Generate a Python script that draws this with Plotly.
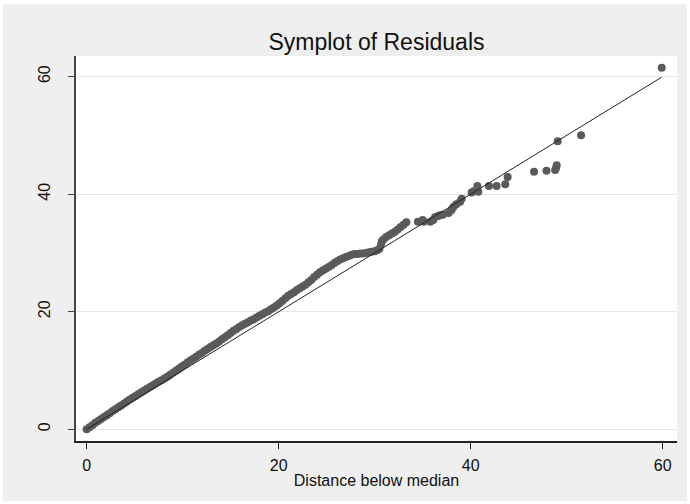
import plotly.graph_objects as go

# Distance below median (x) and distance above median (y) for each symmetric pair
below = [0.0, 0.3, 0.6, 0.9, 1.2, 1.5, 1.8, 2.1, 2.4, 2.7,
         3.0, 3.3, 3.6, 3.9, 4.2, 4.5, 4.8, 5.1, 5.4, 5.7,
         6.0, 6.3, 6.6, 6.9, 7.2, 7.5, 7.8, 8.1, 8.4, 8.7,
         9.0, 9.3, 9.6, 9.9, 10.2, 10.5, 10.8, 11.1, 11.4, 11.7,
         12.0, 12.3, 12.6, 12.9, 13.2, 13.5, 13.8, 14.1, 14.4, 14.7,
         15.0, 15.3, 15.6, 15.9, 16.2, 16.5, 16.8, 17.1, 17.4, 17.7,
         18.0, 18.3, 18.6, 18.9, 19.2, 19.5, 19.8, 20.1, 20.4, 20.7,
         21.0, 21.3, 21.6, 21.9, 22.2, 22.5, 22.8, 23.1, 23.4, 23.7,
         24.0, 24.3, 24.6, 24.9, 25.2, 25.5, 25.8, 26.1, 26.4, 26.7,
         27.0, 27.3, 27.6, 27.9, 28.2, 28.5, 28.8, 29.1, 29.4, 29.7,
         30.0, 30.3, 30.5, 30.65, 30.75, 30.9, 31.2, 31.5, 31.8, 32.1,
         32.4, 32.7, 33.0, 33.3,
         34.5, 35.0, 35.1, 35.8, 36.1, 36.3, 36.6, 36.8, 37.1, 37.7,
         38.0, 38.2, 38.5, 38.9, 39.06, 40.1, 40.3, 40.7, 40.8, 41.9,
         42.7, 43.6, 43.85, 46.6, 47.9, 48.8, 48.9, 48.96, 49.06, 51.5,
         59.9]
above = [0.0, 0.35, 0.7, 1.1, 1.4, 1.75, 2.1, 2.4, 2.75, 3.1,
         3.4, 3.75, 4.05, 4.4, 4.75, 5.05, 5.35, 5.65, 6.0, 6.3,
         6.6, 6.9, 7.2, 7.5, 7.8, 8.1, 8.35, 8.65, 8.95, 9.3,
         9.6, 9.95, 10.3, 10.7, 11.0, 11.35, 11.7, 12.0, 12.35, 12.7,
         13.0, 13.35, 13.65, 14.0, 14.3, 14.6, 14.95, 15.3, 15.65, 16.0,
         16.4, 16.75, 17.05, 17.4, 17.7, 17.95, 18.2, 18.5, 18.7, 19.0,
         19.3, 19.55, 19.85, 20.1, 20.4, 20.7, 21.05, 21.45, 21.85, 22.3,
         22.7, 23.0, 23.3, 23.7, 24.0, 24.3, 24.6, 25.0, 25.4, 25.9,
         26.3, 26.7, 27.0, 27.3, 27.6, 27.9, 28.3, 28.6, 28.9, 29.1,
         29.3, 29.5, 29.7, 29.8, 29.8, 29.9, 29.9, 30.0, 30.1, 30.2,
         30.3, 30.5, 30.7, 31.4, 32.0, 32.3, 32.7, 33.0, 33.3, 33.6,
         34.0, 34.4, 34.8, 35.2,
         35.3, 35.6, 35.3, 35.3, 35.6, 36.1, 36.3, 36.4, 36.5, 36.8,
         37.3, 37.8, 38.3, 38.7, 39.2, 40.3, 40.5, 41.4, 40.4, 41.4,
         41.4, 41.7, 42.9, 43.8, 44.0, 44.1, 44.5, 44.9, 49.0, 50.0,
         61.5]

title_text = "Symplot of Residuals"
x_title = "Distance below median"
tick_vals = [0, 20, 40, 60]

line_end = max(below)

fig = go.Figure()
fig.add_trace(go.Scatter(
    x=below, y=above, mode="markers",
    marker=dict(size=8, color="#5a5a5a", line=dict(width=0)),
    showlegend=False, hoverinfo="x+y"))
fig.add_trace(go.Scatter(
    x=[0, line_end], y=[0, line_end], mode="lines",
    line=dict(color="#222222", width=1),
    showlegend=False, hoverinfo="skip"))

W, H = 690, 504
ml, mr, mt, mb = 76, 13, 56, 63
pw, ph = W - ml - mr, H - mt - mb

def px_x(p):
    return (p - ml) / pw

def px_y(p):
    return (H - mb - p) / ph

# outer grey graph region, then white plot region
fig.add_shape(type="rect", xref="paper", yref="paper",
              x0=px_x(3), x1=px_x(687), y0=px_y(501), y1=px_y(4),
              fillcolor="#efefef", line=dict(width=0), layer="below")
fig.add_shape(type="rect", xref="paper", yref="paper",
              x0=0, x1=1, y0=0, y1=1,
              fillcolor="white", line=dict(width=0), layer="below")

font_family = "Liberation Sans, Arial, Helvetica, sans-serif"

fig.update_layout(
    width=W, height=H,
    margin=dict(l=ml, r=mr, t=mt, b=mb, pad=0, autoexpand=False),
    paper_bgcolor="white",
    plot_bgcolor="rgba(0,0,0,0)",
    font=dict(family=font_family, color="#111111", size=16),
    title=dict(text=title_text, x=0.5, xref="paper", xanchor="center",
               y=1 - 42 / H, yref="container", yanchor="middle",
               font=dict(size=23, color="#111111", family=font_family)),
    xaxis=dict(range=[-1.11, 61.49], tickvals=tick_vals,
               showgrid=False, zeroline=False, automargin=False,
               showline=True, linecolor="#222222", linewidth=1.5,
               ticks="outside", ticklen=6, tickcolor="#222222", tickwidth=1,
               ticklabelstandoff=3,
               tickfont=dict(size=16),
               title=dict(text=x_title, font=dict(size=16), standoff=2)),
    yaxis=dict(range=[-1.99, 63.5], tickvals=tick_vals,
               showgrid=True, gridcolor="#e6e6e6", gridwidth=1,
               zeroline=False, automargin=False,
               showline=True, linecolor="#444444", linewidth=1.5,
               ticks="outside", ticklen=6, tickcolor="#444444", tickwidth=1,
               tickangle=-90, ticklabelstandoff=12,
               tickfont=dict(size=16)),
)

fig.write_html("out.html",
               config={"displayModeBar": False},
               post_script="document.body.style.margin='0px';")
